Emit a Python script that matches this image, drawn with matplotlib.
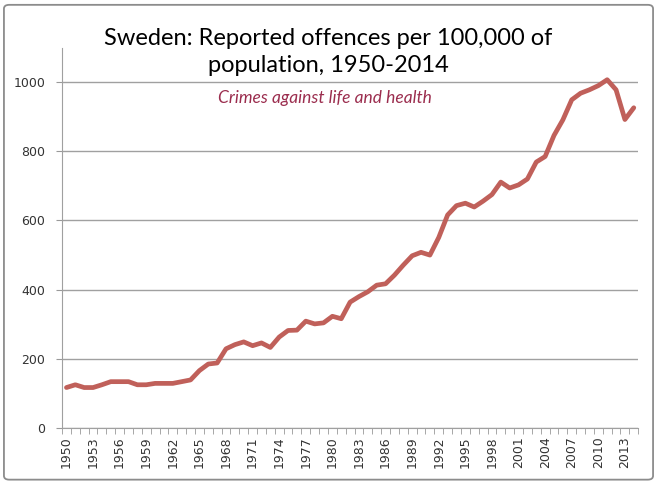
import matplotlib.pyplot as plt
from matplotlib.patches import FancyBboxPatch
from matplotlib.ticker import FixedLocator

years = list(range(1950, 2015))
offences = [117, 125, 117, 117, 125, 134, 134, 134, 125, 125,
            129, 129, 129, 134, 139, 166, 185, 188, 229, 241,
            249, 238, 246, 233, 263, 282, 283, 309, 301, 304,
            323, 316, 364, 380, 394, 413, 417, 442, 471, 498,
            508, 500, 551, 616, 643, 650, 639, 656, 675, 711,
            694, 703, 720, 769, 785, 846, 891, 949, 968, 978,
            990, 1007, 978, 892, 926]

label_years = list(range(1950, 2014, 3))
y_ticks = [0, 200, 400, 600, 800, 1000]

fig = plt.figure(figsize=(6.57, 4.84), dpi=100)
ax = fig.add_axes([0.0944, 0.1157, 0.877, 0.786])

# rounded grey frame round the whole chart
frame = FancyBboxPatch((0.006, 0.009), 0.988, 0.981, boxstyle="round,pad=0,rounding_size=0.008",
                       transform=fig.transFigure, fill=False, edgecolor='#8c8c8c', linewidth=1.3)
fig.patches.append(frame)

ax.plot(years, offences, color='#c0605a', linewidth=3.4, solid_capstyle='round', zorder=3)

ax.set_xlim(1949.5, 2014.5)
ax.set_ylim(0, 1100)
ax.set_yticks(y_ticks)
ax.set_xticks(label_years)
ax.set_xticklabels([str(y) for y in label_years], rotation=90)
ax.xaxis.set_minor_locator(FixedLocator([y - 0.5 for y in years] + [2014.5]))
ax.tick_params(axis='x', which='major', length=0, pad=6, labelsize=9, labelcolor='#333333')
ax.tick_params(axis='x', which='minor', length=4, color='#999999', direction='out')
ax.tick_params(axis='y', length=4, color='#999999', labelsize=9, labelcolor='#333333', pad=8)

ax.grid(axis='y', color='#a0a0a0', linewidth=1)
ax.set_axisbelow(True)
for s in ['top', 'right']:
    ax.spines[s].set_visible(False)
ax.spines['left'].set_color('#a0a0a0')
ax.spines['bottom'].set_color('#a0a0a0')

fig.text(0.5, 0.893, "Sweden: Reported offences per 100,000 of\npopulation, 1950-2014",
         ha='center', va='center', fontsize=17, family='Lato', linespacing=1.35)
fig.text(0.495, 0.797, "Crimes against life and health", ha='center', va='center',
         fontsize=12.5, family='Lato', style='italic', color='#9b2d4e')

fig.savefig('out.png', dpi=100)
